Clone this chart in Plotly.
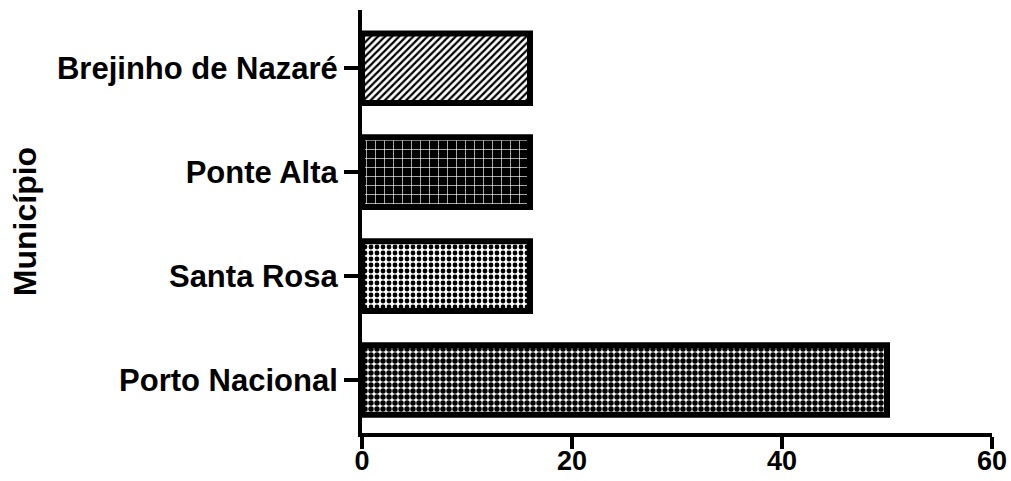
import plotly.graph_objects as go

# Municipalities (bottom to top) and their values
municipios = ["Porto Nacional", "Santa Rosa", "Ponte Alta", "Brejinho de Nazaré"]
valores = [50, 16, 16, 16]
x_ticks = [0, 20, 40, 60]

# Fill pattern per bar
pattern_shapes = [".", ".", "+", "/"]
pattern_fg = ["black", "black", "white", "black"]
pattern_bg = ["white", "white", "black", "white"]
pattern_size = [6, 6, 9, 5]
pattern_solidity = [0.65, 0.5, 0.14, 0.45]

font_family = "Liberation Sans, Arial, sans-serif"

fig = go.Figure(
    go.Bar(
        x=valores,
        y=municipios,
        orientation="h",
        width=0.67,
        marker=dict(
            color="white",
            line=dict(color="black", width=6),
            pattern=dict(
                shape=pattern_shapes,
                fgcolor=pattern_fg,
                bgcolor=pattern_bg,
                size=pattern_size,
                solidity=pattern_solidity,
                fillmode="replace",
            ),
        ),
        showlegend=False,
    )
)

fig.update_layout(
    width=1011,
    height=481,
    margin=dict(l=362, r=19, t=10, b=48),
    plot_bgcolor="white",
    paper_bgcolor="white",
    font=dict(family=font_family, color="black"),
)

fig.update_xaxes(
    range=[0, 60],
    tickvals=x_ticks,
    ticktext=[str(v) for v in x_ticks],
    showline=True,
    linecolor="black",
    linewidth=4,
    ticks="outside",
    tickwidth=4,
    ticklen=12,
    tickcolor="black",
    showgrid=False,
    zeroline=False,
    automargin=False,
    ticklabelstandoff=-11,
    tickfont=dict(size=27, family=font_family, weight="bold"),
)

fig.update_yaxes(
    type="category",
    categoryorder="array",
    categoryarray=municipios,
    range=[-0.51, 3.56],
    showline=True,
    linecolor="black",
    linewidth=4,
    ticks="outside",
    tickwidth=4,
    ticklen=14,
    tickcolor="black",
    showgrid=False,
    zeroline=False,
    automargin=False,
    tickfont=dict(size=31, family=font_family, weight="bold"),
    title=dict(
        text="Município",
        font=dict(size=32, family=font_family, weight="bold"),
        standoff=12,
    ),
)

fig.write_html("out.html")
